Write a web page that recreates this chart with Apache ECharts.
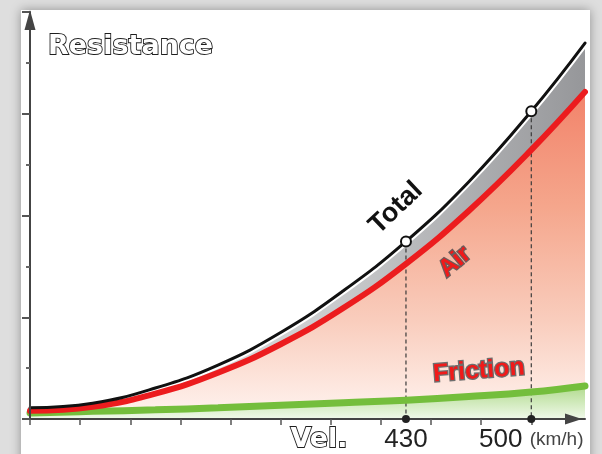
<!DOCTYPE html>
<html>
<head>
<meta charset="utf-8">
<script src="https://cdn.jsdelivr.net/npm/echarts@6/dist/echarts.min.js"></script>
<style>html,body{margin:0;padding:0;background:#dedede}#c{width:602px;height:454px}</style>
</head>
<body>
<div id="c"></div>
<script>
// ---- data ----
const xVals        = [220, 255, 290, 325, 360, 395, 430, 465, 500, 530];
const totalVals    = [0.22, 0.31, 0.61, 1.06, 1.70, 2.52, 3.49, 4.66, 6.05, 7.39];
const airVals      = [0.16, 0.24, 0.50, 0.91, 1.47, 2.18, 3.05, 4.09, 5.29, 6.43];
const frictionVals = [0.12, 0.15, 0.18, 0.22, 0.27, 0.32, 0.37, 0.44, 0.53, 0.65];
const markedVel    = [430, 500];
const xTickVals    = [220, 248, 276, 304, 332, 360, 388, 416, 444, 472, 500];
const xLabelVals   = [430, 500];
const unitLabel    = '(km/h)';
const yTitle       = 'Resistance';
const xTitle       = 'Vel.';
const seriesNames  = ['Total', 'Air', 'Friction'];

const pairs = v => xVals.map((x, i) => [x, v[i]]);
const totalAt = x => totalVals[xVals.indexOf(x)];

const chart = echarts.init(document.getElementById('c'), null, {renderer: 'canvas'});

const lin = (x, y, x2, y2, stops) => ({type: 'linear', x, y, x2, y2,
  colorStops: stops.map(s => ({offset: s[0], color: s[1]}))});

const SM = 0.45;
const series = [
  { // gray band (total area)
    type: 'line', data: pairs(totalVals), smooth: SM, symbol: 'none', z: 1,
    lineStyle: {width: 0}, silent: true,
    areaStyle: {opacity: 1, color: lin(0, 0, 1, 0, [[0, '#f2f2f2'], [0.55, '#c9cacc'], [1, '#96979a']])}
  },
  { // salmon area under air
    type: 'line', data: pairs(airVals), smooth: SM, symbol: 'none', z: 2,
    lineStyle: {width: 0},
    areaStyle: {opacity: 1, color: lin(0, 0, 0, 1, [[0, '#f2836a'], [0.35, '#f5a68c'], [0.7, '#f9cdbd'], [1, '#fff4f0']])}
  },
  { // light green area under friction
    type: 'line', data: pairs(frictionVals), smooth: SM, symbol: 'none', z: 3,
    lineStyle: {width: 0},
    areaStyle: {opacity: 1, color: lin(0, 0, 0, 1, [[0, '#b0da8c'], [1, '#f0f9ea']])}
  }
];
markedVel.forEach(v => {
  series.push({
    type: 'line', data: [[v, totalAt(v)], [v, 0]], symbol: 'none', z: 4,
    lineStyle: {color: '#3a3a3a', width: 1.2, type: [4, 3]}
  });
});
series.push(
  { // white halo under total line
    type: 'line', data: pairs(totalVals), smooth: SM, symbol: 'none', z: 5,
    lineStyle: {color: '#ffffff', width: 7}
  },
  {
    name: seriesNames[2], type: 'line', data: pairs(frictionVals), smooth: SM, symbol: 'none', z: 6,
    lineStyle: {color: '#74be3c', width: 7, cap: 'round'}
  },
  {
    name: seriesNames[1], type: 'line', data: pairs(airVals), smooth: SM, symbol: 'none', z: 6,
    lineStyle: {color: '#ec1c1e', width: 6, cap: 'round'}
  },
  {
    name: seriesNames[0], type: 'line', data: pairs(totalVals), smooth: SM, symbol: 'none', z: 7,
    lineStyle: {color: '#111111', width: 3, cap: 'round'}
  },
  { // hollow circles on total
    type: 'scatter', data: markedVel.map(v => [v, totalAt(v)]), z: 12,
    symbol: 'circle', symbolSize: 10,
    itemStyle: {color: '#ffffff', borderColor: '#111', borderWidth: 2, opacity: 1}
  },
  { // dots on axis
    type: 'scatter', data: markedVel.map(v => [v, 0]), z: 12, clip: false,
    symbol: 'circle', symbolSize: 8,
    itemStyle: {color: '#222', opacity: 1}
  }
);

const outlined = {fill: '#ffffff', stroke: '#1e1e1e', lineWidth: 1.8};

chart.setOption({
  animation: false,
  backgroundColor: '#dedede',
  grid: {left: 30, right: 17, top: 12, bottom: 35},
  xAxis: {
    type: 'value', min: 220, max: 530, z: 10,
    axisLine: {show: true, onZero: false, symbol: ['none', 'triangle'], symbolSize: [11, 17], symbolOffset: [0, -11.5],
      lineStyle: {color: '#444', width: 2}},
    axisTick: {show: true, customValues: xTickVals, length: 6, lineStyle: {color: '#555', width: 1.5}},
    axisLabel: {
      show: true, customValues: xLabelVals, margin: 8, color: '#222',
      fontFamily: 'Liberation Sans', fontSize: 26,
      formatter: v => v === xLabelVals[xLabelVals.length - 1] ? v + ' {u|' + unitLabel + '}' : String(v),
      rich: {u: {fontFamily: 'Liberation Sans', fontSize: 19, color: '#444'}}
    },
    splitLine: {show: false}
  },
  yAxis: {
    type: 'value', min: 0, max: 8, interval: 2, z: 10,
    axisLine: {show: true, symbol: ['none', 'triangle'], symbolSize: [11, 20], symbolOffset: [0, -8],
      lineStyle: {color: '#444', width: 2}},
    axisTick: {show: true, length: 8, lineStyle: {color: '#555', width: 2}},
    minorTick: {show: true, splitNumber: 2, length: 4, lineStyle: {color: '#666', width: 2}},
    axisLabel: {show: false},
    splitLine: {show: false},
    minorSplitLine: {show: false}
  },
  graphic: [
    {type: 'rect', z: -10, silent: true, shape: {x: 21, y: 10, width: 569, height: 470},
      style: {fill: '#ffffff', shadowBlur: 10, shadowColor: 'rgba(0,0,0,0.35)'}},
    {type: 'text', z: 100, x: 48, y: 47, style: Object.assign({text: yTitle, font: 'bold 27px "DejaVu Sans"',
      textAlign: 'left', textVerticalAlign: 'middle'}, outlined)},
    {type: 'text', z: 100, x: 319, y: 440, style: Object.assign({text: xTitle, font: 'bold 27px "DejaVu Sans"',
      textAlign: 'center', textVerticalAlign: 'middle'}, outlined)},
    {type: 'text', z: 100, x: 396, y: 208, rotation: 0.76, style: {text: seriesNames[0],
      font: 'bold 27px "Liberation Sans"', fill: '#111', textAlign: 'center', textVerticalAlign: 'middle',
      shadowBlur: 4, shadowColor: 'rgba(0,0,0,0.45)'}},
    {type: 'text', z: 100, x: 455, y: 262, rotation: 0.7, style: {text: seriesNames[1],
      font: 'bold 24px "Liberation Sans"', fill: '#f01a1a', stroke: '#6b5c5c', lineWidth: 2.5,
      textAlign: 'center', textVerticalAlign: 'middle', shadowBlur: 3, shadowColor: 'rgba(0,0,0,0.4)'}},
    {type: 'text', z: 100, x: 479, y: 371, rotation: 0.08, style: {text: seriesNames[2],
      font: 'bold 25px "Liberation Sans"', fill: '#f01a1a', stroke: '#6e6e6e', lineWidth: 2.5,
      textAlign: 'center', textVerticalAlign: 'middle', shadowBlur: 3, shadowColor: 'rgba(0,0,0,0.4)'}}
  ],
  series: series
});
</script>
</body>
</html>
